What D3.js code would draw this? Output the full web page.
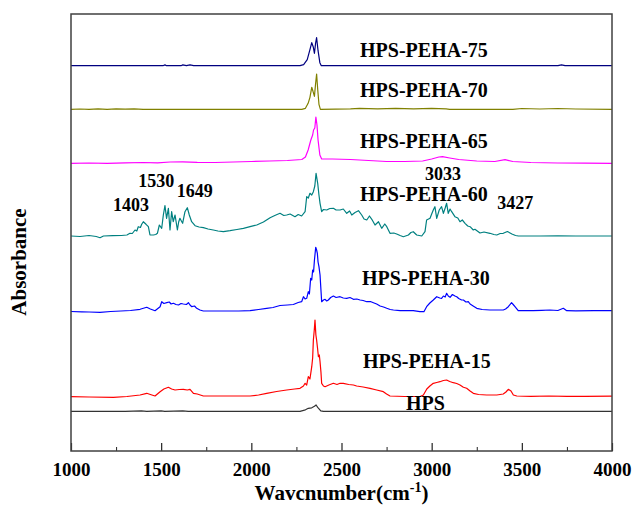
<!DOCTYPE html>
<html>
<head>
<meta charset="utf-8">
<script src="https://cdn.jsdelivr.net/npm/d3@7/dist/d3.min.js"></script>
<style>
  body { margin: 0; background: #fff; }
  svg text { font-family: "Liberation Serif", "Times New Roman", serif; font-weight: bold; fill: #000; }
</style>
</head>
<body>
<svg id="chart"></svg>
<script>
// spectra: [wavenumber (cm-1), absorbance above own baseline (a.u.)]
const hps = [
  [1000, 0], [1300, 0], [1390, 0.05], [1420, 0], [1500, 0.05], [1520, 0], [1620, 0.05], [1650, 0],
  [2270, 0], [2300, 0.15], [2316, 0.3], [2335, 0.35], [2350, 0.5], [2359, 0.63], [2368, 0.4],
  [2385, 0.05], [2400, 0], [4000, 0]
];

const peha15 = [
  [1000, 0.01], [1100, -0.02], [1235, -0.05], [1310, 0.03], [1383, 0.18], [1420, 0.35], [1440, 0.23],
  [1466, 0.08], [1494, 0.51], [1515, 0.78], [1540, 0.95], [1558, 0.78], [1577, 0.68], [1600, 0.73],
  [1623, 0.75], [1645, 0.68], [1660, 0.75], [1679, 0.35], [1700, 0.28], [1734, 0.08], [1800, 0.08],
  [1900, 0.08], [1993, 0.08], [2040, 0.18], [2085, 0.35], [2140, 0.53], [2196, 0.68], [2240, 0.78],
  [2270, 0.85], [2289, 1.08], [2298, 1.35], [2307, 1.18], [2316, 2.01], [2325, 1.78], [2335, 3.01],
  [2340, 3.88], [2344, 5.68], [2349, 6.68], [2353, 7.68], [2358, 6.18], [2362, 5.68], [2367, 4.88],
  [2372, 4.01], [2377, 4.18], [2381, 3.51], [2386, 2.48], [2390, 1.35], [2400, 1.08], [2409, 1.01],
  [2430, 1.18], [2455, 1.35], [2475, 1.23], [2492, 1.35], [2510, 1.35], [2540, 1.23], [2566, 1.18],
  [2584, 1.08], [2620, 0.98], [2658, 0.85], [2695, 0.68], [2732, 0.51], [2750, 0.28], [2769, 0.08],
  [2850, 0.03], [2936, 0.03], [2954, 0.18], [2973, 0.78], [2990, 1.08], [3009, 1.35], [3028, 1.43],
  [3046, 1.51], [3065, 1.63], [3083, 1.68], [3100, 1.53], [3120, 1.41], [3139, 1.33], [3157, 1.18],
  [3176, 0.95], [3194, 0.85], [3213, 0.58], [3231, 0.35], [3260, 0.23], [3305, 0.18], [3361, 0.18],
  [3397, 0.28], [3412, 0.48], [3425, 0.75], [3440, 0.58], [3453, 0.18], [3472, 0.08], [3550, 0.05],
  [3650, 0.08], [3750, 0.05], [3850, 0.05], [4000, 0.06]
];

const peha30 = [
  [1000, -0.02], [1060, -0.05], [1100, -0.07], [1161, -0.1], [1220, -0.02], [1277, 0.03], [1330, 0.08],
  [1383, 0.2], [1420, 0.4], [1440, 0.23], [1466, 0.06], [1494, 0.46], [1503, 0.96], [1515, 0.78],
  [1531, 0.86], [1545, 0.93], [1555, 0.73], [1568, 0.8], [1582, 0.68], [1596, 0.63], [1610, 0.78],
  [1623, 0.73], [1640, 0.68], [1651, 0.86], [1660, 0.63], [1670, 0.46], [1685, 0.53], [1697, 0.3],
  [1715, 0.13], [1734, 0.03], [1800, 0.03], [1864, 0.03], [1930, 0.03], [1993, 0.06], [2040, 0.18],
  [2085, 0.3], [2120, 0.38], [2159, 0.58], [2200, 0.63], [2233, 0.68], [2260, 0.88], [2279, 0.96],
  [2289, 1.46], [2298, 1.23], [2307, 1.3], [2316, 1.96], [2322, 1.73], [2329, 3.3], [2335, 3.13],
  [2340, 4.13], [2345, 3.93], [2350, 5.13], [2357, 6.4], [2362, 6.13], [2366, 5.8], [2370, 4.93],
  [2375, 4.46], [2381, 3.63], [2390, 0.96], [2400, 1.13], [2409, 1.2], [2418, 1.03], [2427, 1.13],
  [2440, 1.38], [2455, 1.53], [2470, 1.38], [2492, 1.46], [2510, 1.33], [2529, 1.3], [2547, 1.38],
  [2566, 1.2], [2585, 1.23], [2603, 1.13], [2620, 1.08], [2640, 0.96], [2660, 0.98], [2677, 0.86],
  [2695, 0.73], [2714, 0.53], [2733, 0.43], [2751, 0.3], [2770, 0.18], [2788, 0.13], [2825, 0.06],
  [2860, 0.06], [2898, 0.06], [2935, -0.04], [2957, -0.04], [2972, 0.46], [2990, 0.83], [3009, 1.13],
  [3028, 1.46], [3045, 1.33], [3055, 1.3], [3065, 1.53], [3075, 1.43], [3083, 1.8], [3092, 1.53],
  [3102, 1.4], [3115, 1.68], [3129, 1.53], [3139, 1.46], [3150, 1.28], [3166, 1.13], [3176, 1.13],
  [3190, 0.93], [3203, 0.96], [3213, 0.73], [3230, 0.53], [3250, 0.3], [3280, 0.18], [3323, 0.13],
  [3360, 0.13], [3397, 0.13], [3410, 0.23], [3425, 0.46], [3443, 0.86], [3452, 0.68], [3462, 0.46],
  [3480, 0.06], [3520, 0.06], [3563, 0.06], [3610, 0.1], [3656, 0.13], [3700, 0.08], [3730, 0.3],
  [3749, 0.06], [3800, 0.05], [3900, 0.06], [4000, 0.06]
];

const peha60 = [
  [1000, 0], [1050, -0.05], [1100, 0.05], [1140, -0.05], [1161, -0.17], [1180, 0], [1230, 0.03],
  [1280, 0.05], [1310, 0.1], [1327, 0.27], [1340, 0.25], [1355, 0.6], [1365, 0.5], [1373, 0.93],
  [1385, 0.85], [1392, 1.17], [1401, 1.43], [1416, 1.17], [1429, 0.93], [1438, 0.1], [1457, 0.1],
  [1470, 0.15], [1479, 0.27], [1490, 1.1], [1503, 0.77], [1512, 2.1], [1521, 3.03], [1530, 1.77],
  [1540, 2.77], [1549, 0.6], [1558, 2.43], [1567, 1.43], [1577, 2.1], [1590, 0.6], [1597, 1.4],
  [1604, 1.77], [1612, 1.5], [1619, 1.27], [1632, 2.43], [1645, 2.83], [1656, 2.1], [1669, 1.43],
  [1688, 1.03], [1710, 0.9], [1734, 0.83], [1760, 0.7], [1789, 0.6], [1815, 0.5], [1845, 0.43],
  [1882, 0.53], [1920, 0.65], [1956, 0.77], [1993, 0.93], [2030, 1.1], [2067, 1.4], [2104, 1.83],
  [2130, 2.05], [2159, 2.27], [2180, 2.05], [2196, 2.1], [2215, 2.2], [2242, 1.93], [2260, 2.15],
  [2279, 2.0], [2298, 2.43], [2307, 3.93], [2316, 3.8], [2325, 4.27], [2335, 4.1], [2344, 4.43],
  [2352, 5.0], [2359, 6.27], [2368, 5.27], [2375, 4.1], [2381, 3.27], [2390, 2.43], [2400, 2.65],
  [2418, 2.6], [2435, 2.75], [2455, 2.77], [2470, 2.6], [2492, 2.6], [2510, 2.7], [2529, 2.27],
  [2545, 2.5], [2557, 2.1], [2575, 2.35], [2594, 2.53], [2612, 2.1], [2625, 1.7], [2640, 1.6],
  [2655, 2.0], [2668, 1.67], [2686, 1.1], [2705, 1.43], [2723, 0.77], [2740, 1.2], [2751, 0.93],
  [2769, 0.27], [2790, 0.3], [2806, 0.2], [2825, 0.05], [2843, -0.07], [2871, 0.1], [2885, 0.35],
  [2898, 0.43], [2917, 0.1], [2945, 0], [2963, 0.43], [2972, 1.6], [2991, 1.77], [3000, 2.2],
  [3009, 2.6], [3018, 2.93], [3028, 1.77], [3042, 2.6], [3055, 2.93], [3065, 2.27], [3075, 2.8],
  [3083, 3.27], [3092, 2.27], [3102, 2.7], [3111, 2.43], [3129, 1.93], [3145, 1.8], [3157, 1.43],
  [3170, 1.6], [3185, 1.27], [3200, 1.0], [3213, 0.93], [3231, 0.6], [3240, 0.67], [3268, 0.3],
  [3290, 0.4], [3323, 0.27], [3345, 0.15], [3361, 0.1], [3380, 0.25], [3397, 0.27], [3420, 0.45],
  [3445, 0.2], [3465, 0.05], [3481, 0], [3600, 0], [3700, 0.02], [3800, 0], [4000, 0]
];

const peha65 = [
  [1000, -0.03], [1100, 0], [1200, -0.03], [1300, 0.02], [1400, 0.05], [1480, 0.02], [1550, 0.1],
  [1620, 0.12], [1700, 0.07], [1800, 0.05], [1900, 0.1], [2000, 0.15], [2100, 0.2], [2200, 0.25],
  [2280, 0.35], [2300, 0.6], [2315, 1.3], [2330, 2.3], [2340, 2.8], [2345, 3.3], [2352, 3.5],
  [2358, 4.6], [2364, 3.8], [2370, 2.3], [2380, 0.8], [2390, 0.4], [2450, 0.4], [2550, 0.35],
  [2650, 0.25], [2750, 0.15], [2850, 0.15], [2950, 0.2], [3000, 0.4], [3040, 0.6], [3060, 0.63],
  [3100, 0.5], [3150, 0.35], [3250, 0.2], [3350, 0.15], [3407, 0.33], [3450, 0.15], [3550, 0.05],
  [3700, 0], [3850, -0.02], [4000, -0.03]
];

const peha70 = [
  [1000, 0], [1050, 0.03], [1100, 0], [1150, 0.05], [1200, 0], [1250, 0.04], [1300, 0.02],
  [1350, 0.05], [1400, 0], [1500, 0], [2280, 0], [2300, 0.1], [2315, 0.6], [2325, 1.2], [2335, 2.2],
  [2342, 1.8], [2350, 1.3], [2356, 2.5], [2362, 3.53], [2368, 2.0], [2375, 0.5], [2383, 0],
  [2550, 0.05], [2600, 0.1], [2700, 0.05], [2800, 0.1], [2900, 0.05], [3000, 0.1], [3080, 0.05],
  [3100, 0], [3450, 0], [3500, 0.08], [3600, 0.03], [3700, 0.08], [3800, 0.03], [4000, 0]
];

const peha75 = [
  [1000, 0], [1510, 0], [1521, 0.08], [1530, 0], [1610, 0], [1620, 0.08], [1640, 0], [1660, 0.08],
  [1680, 0], [2270, 0], [2290, 0.1], [2310, 0.6], [2325, 1.6], [2335, 2.3], [2343, 1.9], [2350, 1.24],
  [2356, 2.2], [2362, 2.8], [2370, 1.5], [2380, 0.3], [2388, 0], [3700, 0], [3720, 0.08],
  [3740, 0], [4000, 0]
];

const seriesNames = ["HPS", "HPS-PEHA-15", "HPS-PEHA-30", "HPS-PEHA-60", "HPS-PEHA-65", "HPS-PEHA-70", "HPS-PEHA-75"];
const seriesData = [hps, peha15, peha30, peha60, peha65, peha70, peha75];
const stackOffsets = [3.97, 5.42, 13.97, 21.5, 28.8, 34.17, 38.53];
const seriesColors = ["#333333", "#ff0000", "#0000ff", "#008080", "#ff00ff", "#808000", "#000080"];
// where the series name sits: [wavenumber, absorbance]
const nameAnchors = [[2858, 4.1], [2619, 8.3], [2614, 16.6], [2603, 25.0], [2603, 30.3], [2603, 35.4], [2603, 39.4]];

const peakLabels = ["1403", "1530", "1649", "3033", "3427"];
const peakAnchors = [[1233, 24.0], [1373, 26.43], [1586, 25.43], [2963, 27.1], [3363, 24.2]];

const majorTicks = [1000, 1500, 2000, 2500, 3000, 3500, 4000];
const minorTicks = [1250, 1750, 2250, 2750, 3250, 3750];

const width = 633;
const height = 510;
const margin = { top: 14, right: 21, bottom: 59, left: 71 };

const svg = d3.select("#chart").attr("width", width).attr("height", height);

// Scales
const x = d3.scaleLinear()
  .domain([1000, 4000])
  .range([margin.left, width - margin.right]);

const y = d3.scaleLinear()
  .domain([0, 43.7])
  .range([height - margin.bottom, margin.top]);

// Spectra
seriesData.forEach((data, i) => {
  const line = d3.line()
    .x(d => x(d[0]))
    .y(d => y(d[1] + stackOffsets[i]));

  svg.append("path")
    .datum(data)
    .attr("fill", "none")
    .attr("stroke", seriesColors[i])
    .attr("stroke-width", 1.2)
    .attr("stroke-linejoin", "round")
    .attr("d", line);
});

// Series names
seriesNames.forEach((name, i) => {
  svg.append("text")
    .attr("x", x(nameAnchors[i][0]))
    .attr("y", y(nameAnchors[i][1]))
    .style("font-size", "20px")
    .text(name);
});

// Peak labels
peakLabels.forEach((p, i) => {
  svg.append("text")
    .attr("x", x(peakAnchors[i][0]))
    .attr("y", y(peakAnchors[i][1]))
    .style("font-size", "18px")
    .text(p);
});

// x-axis, major ticks point inwards
const xAxis = svg.append("g")
  .attr("transform", `translate(0,${height - margin.bottom})`)
  .call(d3.axisBottom(x).tickValues(majorTicks).tickSize(-8).tickPadding(12).tickFormat(d3.format("d")));
xAxis.select(".domain").remove();
xAxis.selectAll("line").attr("stroke", "#222").attr("stroke-width", 1.2);
xAxis.selectAll("text")
  .style("font-size", "19px")
  .style("font-family", "'Liberation Serif', serif")
  .style("font-weight", "bold");

// minor ticks
const xMinor = svg.append("g")
  .attr("transform", `translate(0,${height - margin.bottom})`)
  .call(d3.axisBottom(x).tickValues(minorTicks).tickSize(-4).tickFormat(""));
xMinor.select(".domain").remove();
xMinor.selectAll("line").attr("stroke", "#222").attr("stroke-width", 1);

// Frame
svg.append("rect")
  .attr("x", margin.left)
  .attr("y", margin.top)
  .attr("width", width - margin.left - margin.right)
  .attr("height", height - margin.top - margin.bottom)
  .attr("fill", "none")
  .attr("stroke", "#404040")
  .attr("stroke-width", 1.5);

// x-axis label
const xLabel = svg.append("text")
  .attr("x", (margin.left + width - margin.right) / 2)
  .attr("y", 500)
  .attr("text-anchor", "middle")
  .style("font-size", "21px");
xLabel.append("tspan").text("Wavcnumber(cm");
xLabel.append("tspan").attr("dy", -8).style("font-size", "14px").text("-1");
xLabel.append("tspan").attr("dy", 8).text(")");

// y-axis label
svg.append("text")
  .attr("transform", "rotate(-90)")
  .attr("x", -262)
  .attr("y", 26)
  .attr("text-anchor", "middle")
  .style("font-size", "21px")
  .text("Absorbance");
</script>
</body>
</html>
